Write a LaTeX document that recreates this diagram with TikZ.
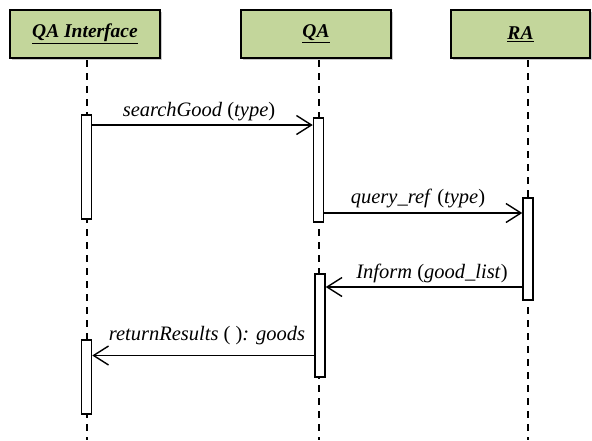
\documentclass[tikz,border=0pt]{standalone}
\usepackage{fontspec}
\setmainfont{Liberation Serif}
\usetikzlibrary{arrows.meta,shadows}
\definecolor{headgreen}{HTML}{C3D69B}
\tikzset{
  header/.style={draw=black, line width=2pt, fill=headgreen, inner sep=0pt,
    minimum height=48pt, font=\fontsize{19.5}{22}\selectfont\bfseries\itshape,
    drop shadow={shadow xshift=1.5pt, shadow yshift=-1.5pt, fill=black!35, opacity=0.6}},
  lifeline/.style={line width=1.4pt, dash pattern=on 7pt off 6pt},
  actbar/.style={draw=black, line width=1.5pt, fill=white, inner sep=0pt,
    minimum width=10pt, anchor=north},
  msg/.style={line width=1.4pt, -{Straight Barb[length=15pt, width=19pt, line width=1.4pt]}},
  msglabel/.style={anchor=base, inner sep=0pt, font=\fontsize{20.5}{23}\selectfont\itshape}
}
\begin{document}
\begin{tikzpicture}[x=1pt, y=-1pt]
  \useasboundingbox (0,0) rectangle (592,440);

  % participant heads
  \node[header, minimum width=150pt] (qai) at (85,34) {\underline{QA Interface}};
  \node[header, minimum width=150pt] (qa)  at (316,34) {\underline{QA}};
  \node[header, minimum width=139pt] (ra)  at (520.5,34) {\underline{RA}};

  % lifeline anchors
  \coordinate (lqai) at (87,60);
  \coordinate (lqa)  at (319,60);
  \coordinate (lra)  at (528,60);
  \coordinate (bottom) at (0,440);

  \draw[lifeline] (lqai) -- (lqai |- bottom);
  \draw[lifeline] (lqa)  -- (lqa |- bottom);
  \draw[lifeline] (lra)  -- (lra |- bottom);

  % activation bars
  \node[actbar, minimum height=104pt] (qaibar1) at (86.5,114) {};
  \node[actbar, minimum height=104pt] (qabar1)  at (318.5,117) {};
  \node[actbar, minimum height=102pt] (rabar)   at (528,197) {};
  \node[actbar, minimum height=103pt] (qabar2)  at (320,273) {};
  \node[actbar, minimum height=74pt]  (qaibar2) at (86.5,339) {};

  % message heights
  \coordinate (m1) at (0,125);
  \coordinate (m2) at (0,213);
  \coordinate (m3) at (0,287);
  \coordinate (m4) at (0,355.5);

  \draw[msg] (qaibar1.east |- m1) -- (qabar1.west |- m1);
  \draw[msg] (qabar1.east |- m2) -- (rabar.west |- m2);
  \draw[msg] (rabar.west |- m3) -- (qabar2.east |- m3);
  \draw[msg] (qabar2.west |- m4) -- (qaibar2.east |- m4);

  % message labels
  \node[msglabel] (t1) at (199,116) {searchGood \textup{(}type\textup{)}};
  \node[msglabel] (t2) at (418,203) {query\_ref \textup{(}type\textup{)}};
  \node[msglabel] (t3) at (432,278) {Inform \textup{(}good\_list\textup{)}};
  \node[msglabel] (t4) at (207,340.5) {returnResults \textup{( )}: goods};
\end{tikzpicture}
\end{document}
